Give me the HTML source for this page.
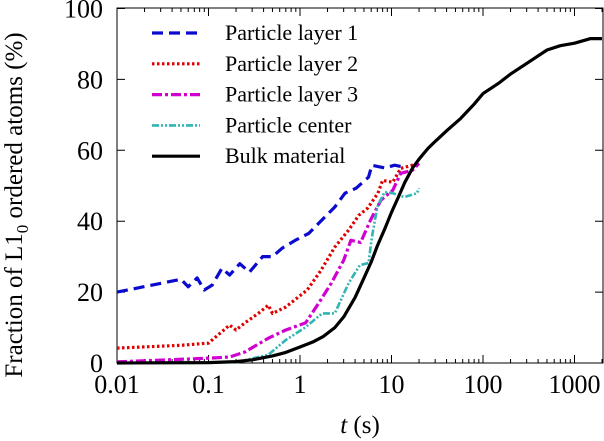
<!DOCTYPE html>
<html><head><meta charset="utf-8"><style>
body{margin:0;background:#fff}
svg{display:block}
text{font-family:"Liberation Serif","DejaVu Serif","Times New Roman",serif}
</style></head><body>
<svg id="c" width="604" height="441" viewBox="0 0 604 441"></svg>
<script>
const yTicks=[0,20,40,60,80,100];
const xTicks=[0.01,0.1,1,10,100,1000];
const xTickLabels=["0.01","0.1","1","10","100","1000"];
const layer1T=[0.01,0.05,0.06,0.075,0.09,0.11,0.14,0.17,0.22,0.28,0.39,0.5,0.64,0.9,1.25,1.73,2.4,3.1,4.1,5.6,6.1,8.5,10.8,13.5];
const layer1V=[20,23.6,21.5,24,20.6,22,26.7,24.8,28,25.6,30,30,32.4,34.7,36.6,40.3,44,47.9,49.3,52.4,55.8,55,55.8,55.3];
const layer2T=[0.01,0.05,0.1,0.17,0.2,0.25,0.35,0.45,0.5,0.7,1.2,1.7,2.4,3.4,4.4,5.5,7.1,8.0,10.3,12.6,20];
const layer2V=[4.2,5,5.6,10.7,9.3,11.3,14,16.3,14,15.8,20.6,26.2,32.7,37.5,41.7,43.7,47.9,51.5,51,54.9,56.3];
const layer3T=[0.01,0.11,0.17,0.25,0.45,0.7,1.15,1.6,2.2,3.0,3.6,4.6,5.9,7.7,10.3,12.6,17,20];
const layer3V=[0.3,1.4,1.7,3.1,7,9.3,11.3,16.9,22.5,29,34.6,34,40.3,46,48.7,53.5,54.4,56.3];
const centerT=[0.01,0.2,0.45,0.7,1.15,1.75,2.4,3.4,4.5,5.6,6.1,7,8.4,10.3,13.8,19,20];
const centerV=[0,0.2,2.3,6.5,10.1,14,14,22.5,27.6,28.2,35.5,44,48.2,47.9,46.8,47.9,49.3];
const bulkT=[0.01,0.1,0.2,0.3,0.5,0.7,1,1.4,1.8,2.4,3,4,5,6,7,8.5,10,12,14,17,20,25,30,40,57,80,100,150,200,300,500,700,1000,1500,2000];
const bulkV=[0,0.1,0.4,0.9,2,3,4.5,6,7.5,10,13,18.5,24,28.5,33,38,42.5,47,51,55,57.5,60.5,62.5,65.5,69,73,76,79,81.5,84.5,88.3,89.5,90.2,91.5,91.5];
const series=[
 {n:"Particle layer 1",t:layer1T,v:layer1V,c:"#0b0bd0",d:"11,6",w:3.2},
 {n:"Particle layer 2",t:layer2T,v:layer2V,c:"#e00000",d:"2.5,2.5",w:3.2},
 {n:"Particle layer 3",t:layer3T,v:layer3V,c:"#d000d0",d:"10,3,3,3",w:3.2},
 {n:"Particle center",t:centerT,v:centerV,c:"#30b4b4",d:"7,2,2,2,2,2",w:2.6},
 {n:"Bulk material",t:bulkT,v:bulkV,c:"#000",d:"",w:3.2}];
const X0=117,DEC=91.5,Y0=363,YS=3.545,XR=603,YT=8;
const sx=t=>X0+(Math.log10(t)+2)*DEC;
const sy=v=>Y0-v*YS;
const svg=document.getElementById('c');
const NS="http://www.w3.org/2000/svg";
function mk(tag,at,txt){const e=document.createElementNS(NS,tag);for(const k in at)e.setAttribute(k,at[k]);if(txt!=null)e.textContent=txt;svg.appendChild(e);return e;}
const frame=mk('rect',{x:X0,y:YT,width:XR-X0,height:Y0-YT,fill:'none',stroke:'#000','stroke-width':1});


yTicks.forEach(v=>{
 const tk=mk('path',{d:`M${X0} ${sy(v)}h8M${XR} ${sy(v)}h-8`,stroke:'#000'});
 
 
 const l=mk('text',{x:X0-14,y:sy(v)+9,'text-anchor':'end','font-size':26},String(v));
 
 
});
xTicks.forEach((t,i)=>{
 const tk=mk('path',{d:`M${sx(t)} ${Y0}v-8M${sx(t)} ${YT}v8`,stroke:'#000'});
 
 
 for(let m=2;m<10;m++){const mt=t*m;if(sx(mt)<XR){const mm=mk('path',{d:`M${sx(mt)} ${Y0}v-4M${sx(mt)} ${YT}v4`,stroke:'#000'});
 
 }}
 const l=mk('text',{x:sx(t),y:Y0+30,'text-anchor':'middle','font-size':26},xTickLabels[i]);
 
 
});
series.forEach((s,i)=>{
 const d=s.t.map((t,j)=>(j?'L':'M')+sx(t).toFixed(1)+' '+sy(s.v[j]).toFixed(1)).join('');
 const p=mk('path',{d,fill:'none',stroke:s.c,'stroke-width':s.w,'stroke-dasharray':s.d,'stroke-linejoin':'round'});
 
 
 const ly=33+i*30.8;
 const ll=mk('path',{d:`M152 ${ly}H200`,stroke:s.c,'stroke-width':s.w,'stroke-dasharray':s.d});
 
 
 const lt=mk('text',{x:225,y:ly+7,'font-size':22},s.n);
 
 
});
</script>
<svg style="position:absolute;left:0;top:0" width="604" height="441">
<text x="360" y="433" text-anchor="middle" font-size="25"><tspan font-style="italic">t</tspan> (s)</text>
<text transform="translate(22,205) rotate(-90)" text-anchor="middle" font-size="25">Fraction of L1<tspan font-size="17" dy="6">0</tspan><tspan dy="-6"> ordered atoms (%)</tspan></text>
</svg>
</body></html>
